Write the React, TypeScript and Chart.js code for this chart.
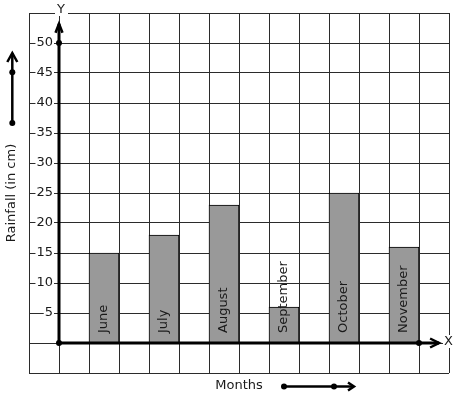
import React, { useEffect, useRef } from 'react';
import { Chart, registerables } from 'chart.js';

Chart.register(...registerables);

const months = ['June', 'July', 'August', 'September', 'October', 'November'];
const rainfall = [15, 18, 23, 6, 25, 16];
const yTickValues = [5, 10, 15, 20, 25, 30, 35, 40, 45, 50];
const yAxisTitle = 'Rainfall (in cm)';
const xAxisTitle = 'Months';

const FONT = '"DejaVu Sans", Verdana, sans-serif';
const INK = '#1a1a1a';
const GRID = '#2b2b2b';

export default function App() {
  const ref = useRef<HTMLCanvasElement>(null);

  useEffect(() => {
    const canvas = ref.current!;

    const decor = {
      id: 'decor',
      afterDatasetsDraw(chart: any) {
        const ctx = chart.ctx;
        const ys = chart.scales.y;
        const meta = chart.getDatasetMeta(0);
        const base = ys.getPixelForValue(0);
        ctx.save();
        ctx.font = `13px ${FONT}`;
        ctx.fillStyle = INK;
        ctx.textAlign = 'left';
        ctx.textBaseline = 'middle';
        meta.data.forEach((el: any, i: number) => {
          ctx.save();
          ctx.translate(el.x, base - 10);
          ctx.rotate(-Math.PI / 2);
          ctx.fillText(months[i], 0, 0);
          ctx.restore();
        });
        ctx.restore();
      },
      afterDraw(chart: any) {
        const ctx = chart.ctx;
        const xs = chart.scales.x;
        const ys = chart.scales.y;
        const ox = xs.getPixelForValue(0);
        const oy = ys.getPixelForValue(0);
        const yTip = ys.getPixelForValue(53.2);
        const xTip = xs.getPixelForValue(12.67);

        const dot = (x: number, y: number, r = 3) => {
          ctx.beginPath();
          ctx.arc(x, y, r, 0, Math.PI * 2);
          ctx.fill();
        };
        const line = (pts: number[][], w: number) => {
          ctx.lineWidth = w;
          ctx.beginPath();
          ctx.moveTo(pts[0][0], pts[0][1]);
          for (let i = 1; i < pts.length; i++) ctx.lineTo(pts[i][0], pts[i][1]);
          ctx.stroke();
        };

        ctx.save();
        ctx.strokeStyle = '#000';
        ctx.fillStyle = '#000';
        ctx.lineCap = 'butt';
        ctx.lineJoin = 'miter';

        // Y axis
        line([[ox, oy], [ox, yTip]], 3);
        line([[ox - 3.5, yTip + 9], [ox, yTip], [ox + 3.5, yTip + 9]], 2.5);
        dot(ox, ys.getPixelForValue(50));
        dot(ox, oy);

        // X axis
        line([[ox, oy], [xTip, oy]], 3);
        line([[xTip - 9, oy - 4.5], [xTip, oy], [xTip - 9, oy + 4.5]], 2.5);
        dot(xs.getPixelForValue(12), oy);

        // left decorative arrow
        line([[12.3, 123], [12.3, 53]], 2.5);
        line([[7.3, 62], [12.3, 53], [17.3, 62]], 2.5);
        dot(12.3, 72.3);
        dot(12.3, 123);

        // bottom decorative arrow
        line([[284, 386.5], [354, 386.5]], 2.5);
        line([[348, 382.5], [354, 386.5], [348, 390.5]], 2.5);
        dot(284, 386.5);
        dot(334, 386.5);

        // axis letters
        ctx.font = `13px ${FONT}`;
        ctx.textAlign = 'center';
        ctx.textBaseline = 'middle';
        ctx.fillStyle = '#fff';
        ctx.fillRect(ox - 4, 2, 13, 14);
        ctx.fillRect(443, 335, 12, 13);
        ctx.fillStyle = INK;
        ctx.fillText('Y', ox + 2, 9.5);
        ctx.fillText('X', 448.5, 341.5);
        ctx.restore();
      },
    };

    const chart = new Chart(canvas, {
      type: 'bar',
      data: {
        datasets: [
          {
            data: rainfall.map((v, i) => ({ x: 1.5 + 2 * i, y: v })),
            backgroundColor: '#999999',
            borderColor: '#000000',
            borderWidth: 1,
            barThickness: 30,
          },
        ],
      },
      options: {
        responsive: false,
        animation: false,
        devicePixelRatio: 1,
        layout: { padding: { left: 4, top: 13, right: 8, bottom: 0 } },
        plugins: { legend: { display: false }, tooltip: { enabled: false } },
        scales: {
          x: {
            type: 'linear',
            offset: false,
            min: -1,
            max: 13,
            ticks: { display: false, stepSize: 1, maxTicksLimit: 100 },
            grid: { color: GRID, lineWidth: 1, drawTicks: false, offset: false },
            border: { display: false },
            title: {
              display: true,
              text: xAxisTitle,
              color: INK,
              font: { family: FONT, size: 13 },
              padding: { top: 4, bottom: 6 },
            },
            afterFit(s: any) {
              s.height = 26;
            },
          },
          y: {
            type: 'linear',
            position: 'left',
            min: -5,
            max: 55,
            ticks: { display: false, stepSize: 5, maxTicksLimit: 100 },
            grid: { color: GRID, lineWidth: 1, drawTicks: false },
            border: { display: false },
            title: {
              display: true,
              text: yAxisTitle,
              color: INK,
              font: { family: FONT, size: 13 },
              padding: { top: 0, bottom: 0 },
            },
            afterFit(s: any) {
              s.width = 25;
            },
          },
          yl: {
            type: 'linear',
            position: { x: -0.2 },
            min: -5,
            max: 55,
            afterBuildTicks(s: any) {
              s.ticks = yTickValues.map((v) => ({ value: v }));
            },
            ticks: {
              color: INK,
              font: { family: FONT, size: 13 },
              padding: 0,
              showLabelBackdrop: true,
              backdropColor: '#ffffff',
              backdropPadding: { x: 1, y: 1 },
            },
            grid: { display: false, drawTicks: false },
            border: { display: false },
          },
        },
      } as any,
      plugins: [decor],
    });

    return () => chart.destroy();
  }, []);

  return (
    <div style={{ position: 'absolute', left: 0, top: 0, width: 457, height: 399, background: '#fff' }}>
      <canvas ref={ref} width={457} height={399} />
    </div>
  );
}
